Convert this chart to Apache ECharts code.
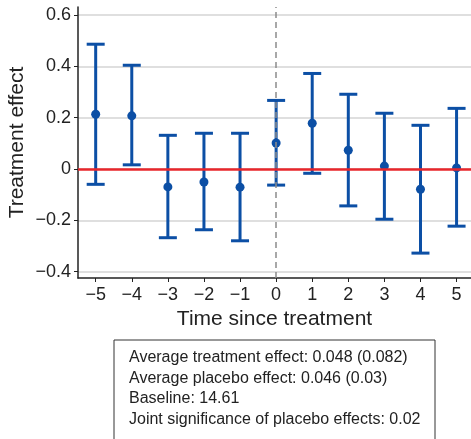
<!DOCTYPE html>
<html>
<head>
<meta charset="utf-8">
<title>Event study</title>
<script src="https://cdn.jsdelivr.net/npm/echarts@6/dist/echarts.min.js"></script>
<style>
  html, body { margin: 0; padding: 0; background: #fff; }
  #main { width: 471px; height: 439px; }
</style>
</head>
<body>
<div id="main"></div>
<script>
// values
var periods = [-5, -4, -3, -2, -1, 0, 1, 2, 3, 4, 5];
var estimates = [0.213, 0.207, -0.070, -0.051, -0.071, 0.101, 0.178, 0.073, 0.011, -0.079, 0.004];
var lower = [-0.060, 0.016, -0.268, -0.237, -0.280, -0.063, -0.017, -0.144, -0.196, -0.328, -0.223];
var upper = [0.486, 0.404, 0.131, 0.139, 0.139, 0.267, 0.372, 0.291, 0.217, 0.170, 0.236];
var yTicks = [-0.4, -0.2, 0, 0.2, 0.4, 0.6];
var xTicks = [-5, -4, -3, -2, -1, 0, 1, 2, 3, 4, 5];
var notes = [
    'Average treatment effect: 0.048 (0.082)',
    'Average placebo effect: 0.046 (0.03)',
    'Baseline: 14.61',
    'Joint significance of placebo effects: 0.02'
];

var BLUE = '#0c4fa5';
var RED = '#e8262b';
var FONT = '"Liberation Sans", Arial, Helvetica, sans-serif';

function minus(s) {
    return String(s).replace('-', '\u2212');
}

var chart = echarts.init(document.getElementById('main'));

var bars = periods.map(function (p, i) { return [p, lower[i], upper[i]]; });
var points = periods.map(function (p, i) { return [p, estimates[i]]; });

var noteGraphics = [{
    type: 'rect',
    shape: { x: 114, y: 340, width: 321, height: 110 },
    style: { fill: '#fff', stroke: '#333', lineWidth: 1 }
}];
notes.forEach(function (t, i) {
    noteGraphics.push({
        type: 'text',
        x: 129,
        y: 358 + i * 20.5,
        style: {
            text: t,
            fill: '#222',
            font: '16px ' + FONT,
            verticalAlign: 'middle'
        }
    });
});

var option = {
    animation: false,
    backgroundColor: '#fff',
    grid: { left: 78, right: 0, top: 7, bottom: 161, outerBoundsMode: 'none', containLabel: false },
    xAxis: {
        type: 'value',
        min: -5.49,
        max: 5.4,
        name: 'Time since treatment',
        nameLocation: 'middle',
        nameGap: 31,
        nameMoveOverlap: false,
        nameTextStyle: { fontSize: 21, color: '#222', fontFamily: FONT },
        axisLine: { show: true, onZero: false, lineStyle: { color: '#222', width: 1.5 } },
        axisTick: { show: true, length: 4, customValues: xTicks, lineStyle: { color: '#222' } },
        axisLabel: {
            customValues: xTicks,
            margin: 8,
            fontSize: 18,
            color: '#222',
            fontFamily: FONT,
            formatter: function (v) { return minus(v); }
        },
        splitLine: { show: false }
    },
    yAxis: {
        type: 'value',
        min: -0.425,
        max: 0.631,
        name: 'Treatment effect',
        nameLocation: 'middle',
        nameGap: 50,
        nameMoveOverlap: false,
        nameTextStyle: { fontSize: 21, color: '#222', fontFamily: FONT },
        axisLine: { show: true, onZero: false, lineStyle: { color: '#222', width: 1.5 } },
        axisTick: { show: true, length: 4, customValues: yTicks, lineStyle: { color: '#222' } },
        axisLabel: {
            customValues: yTicks,
            margin: 7,
            fontSize: 18,
            color: '#222',
            fontFamily: FONT,
            formatter: function (v) {
                if (Math.abs(v) < 1e-9) return '0';
                return minus(v.toFixed(1));
            }
        },
        splitLine: { show: true, lineStyle: { color: '#d4d4d4', width: 1.5 } }
    },
    series: [
        {
            type: 'line',
            data: [],
            z: 1,
            markLine: {
                silent: true,
                symbol: 'none',
                label: { show: false },
                animation: false,
                data: [
                    { yAxis: 0, lineStyle: { color: RED, width: 2.5, type: 'solid' } },
                    { xAxis: 0, lineStyle: { color: '#8c8c8c', width: 1.5, type: [6, 4] } }
                ]
            }
        },
        {
            type: 'custom',
            z: 3,
            data: bars,
            encode: { x: 0, y: [1, 2] },
            renderItem: function (params, api) {
                var x = api.value(0);
                var lo = api.coord([x, api.value(1)]);
                var hi = api.coord([x, api.value(2)]);
                var half = 9;
                var st = { stroke: BLUE, lineWidth: 3 };
                return {
                    type: 'group',
                    children: [
                        { type: 'line', shape: { x1: lo[0], y1: lo[1], x2: hi[0], y2: hi[1] }, style: st },
                        { type: 'line', shape: { x1: hi[0] - half, y1: hi[1], x2: hi[0] + half, y2: hi[1] }, style: st },
                        { type: 'line', shape: { x1: lo[0] - half, y1: lo[1], x2: lo[0] + half, y2: lo[1] }, style: st }
                    ]
                };
            }
        },
        {
            type: 'scatter',
            z: 4,
            data: points,
            symbol: 'circle',
            symbolSize: 9,
            itemStyle: { color: BLUE, opacity: 1 }
        }
    ],
    graphic: noteGraphics
};

chart.setOption(option);
</script>
</body>
</html>
